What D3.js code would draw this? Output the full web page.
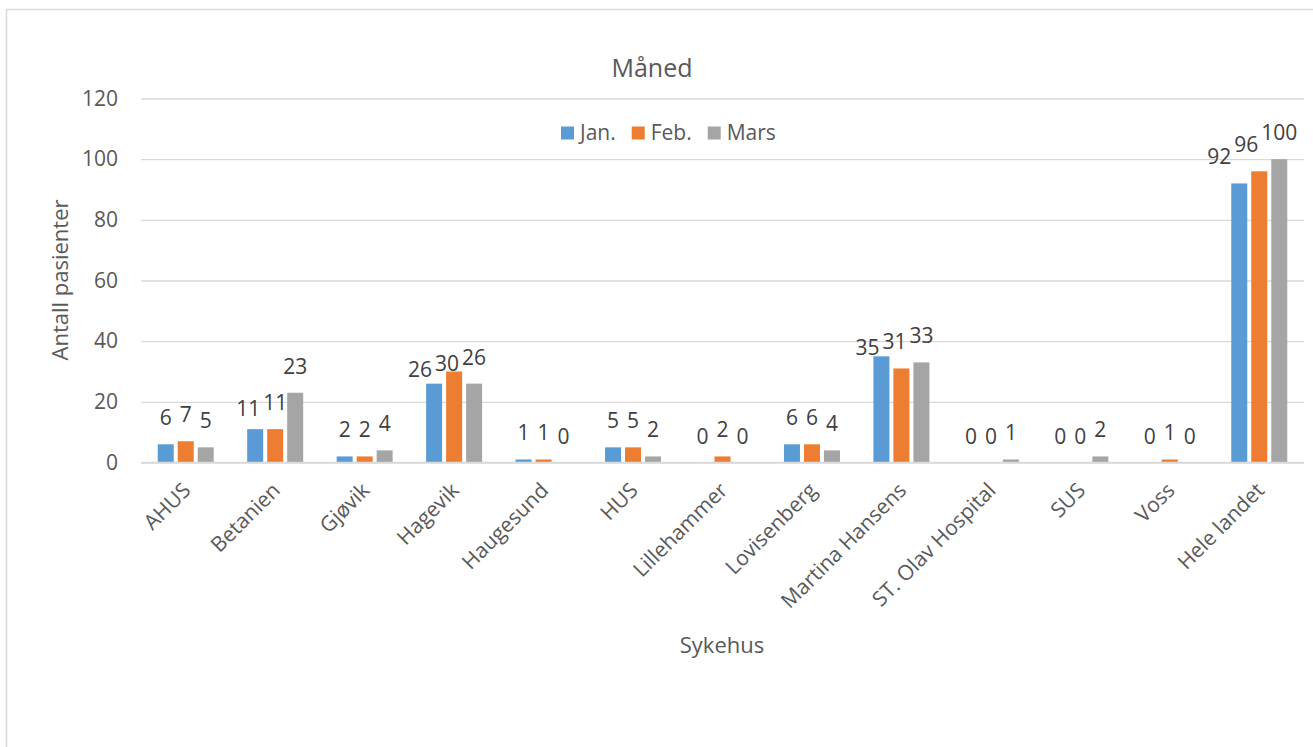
<!DOCTYPE html>
<html>
<head>
<meta charset="utf-8">
<script src="https://cdn.jsdelivr.net/npm/d3@7"></script>
<style>
  html, body { margin: 0; padding: 0; background: #fff; }
  svg { display: block; font-family: "Open Sans", "Noto Sans", sans-serif; }
</style>
</head>
<body>
<svg id="chart" width="1313" height="747"></svg>
<script>
const categories = ["AHUS", "Betanien", "Gjøvik", "Hagevik", "Haugesund", "HUS", "Lillehammer", "Lovisenberg", "Martina Hansens", "ST. Olav Hospital", "SUS", "Voss", "Hele landet"];
const seriesNames = ["Jan.", "Feb.", "Mars"];
const jan  = [6, 11, 2, 26, 1, 5, 0, 6, 35, 0, 0, 0, 92];
const feb  = [7, 11, 2, 30, 1, 5, 2, 6, 31, 0, 0, 1, 96];
const mars = [5, 23, 4, 26, 0, 2, 0, 4, 33, 1, 2, 0, 100];
const seriesValues = [jan, feb, mars];
const colors = ["#5b9bd5", "#ed7d31", "#a5a5a5"];
const yTicks = [0, 20, 40, 60, 80, 100, 120];
const title = "Måned";
const xTitle = "Sykehus";
const yTitle = "Antall pasienter";

const svg = d3.select("#chart");
const textColor = "#595959";

// chart border
svg.append("rect")
  .attr("x", 6.5).attr("y", 9.5)
  .attr("width", 1340).attr("height", 760)
  .attr("fill", "#fff").attr("stroke", "#d9d9d9").attr("stroke-width", 1.5);

const plot = { left: 141, right: 1304, top: 98.5, bottom: 462.5 };

const y = d3.scaleLinear().domain([0, 120]).range([plot.bottom, plot.top]);
const x0 = d3.scaleBand().domain(categories).range([plot.left, plot.right]).padding(0);
const groupW = 60;
const x1 = d3.scaleBand().domain(seriesNames).range([0, groupW]).padding(0);
const barGap = 4;

// gridlines
const yAxis = d3.axisLeft(y).tickValues(yTicks).tickSize(-(plot.right - plot.left)).tickPadding(23);
const gAxis = svg.append("g").attr("transform", `translate(${plot.left},0)`).call(yAxis);
gAxis.select(".domain").remove();
gAxis.selectAll(".tick line").attr("stroke", "#d9d9d9").attr("stroke-width", 1.3);
gAxis.selectAll(".tick text")
  .attr("fill", textColor).style("font-size", "21px")
  .style("font-family", '"Open Sans", sans-serif');

// bars
const rows = [];
categories.forEach((c, i) => {
  seriesNames.forEach((s, j) => {
    rows.push({ cat: c, ser: s, si: j, value: seriesValues[j][i] });
  });
});

const barsG = svg.append("g");
barsG.selectAll("rect").data(rows).join("rect")
  .attr("x", d => x0(d.cat) + (x0.bandwidth() - groupW) / 2 + x1(d.ser) + barGap / 2)
  .attr("width", x1.bandwidth() - barGap)
  .attr("y", d => y(d.value))
  .attr("height", d => y(0) - y(d.value))
  .attr("fill", d => colors[d.si]);

// redraw baseline over bars
svg.append("line")
  .attr("x1", plot.left).attr("x2", plot.right)
  .attr("y1", y(0)).attr("y2", y(0))
  .attr("stroke", "#d9d9d9").attr("stroke-width", 1.3);

// data labels with simple overlap avoidance
const labelsG = svg.append("g");
const labels = labelsG.selectAll("text").data(rows).join("text")
  .attr("x", d => x0(d.cat) + (x0.bandwidth() - groupW) / 2 + x1(d.ser) + x1.bandwidth() / 2)
  .attr("y", d => y(d.value) - 19)
  .attr("text-anchor", "middle")
  .attr("fill", "#404040")
  .style("font-size", "21px")
  .text(d => d.value);

categories.forEach(c => {
  const nodes = labels.filter(d => d.cat === c).nodes();
  for (let k = nodes.length - 2; k >= 0; k--) {
    const a = nodes[k], b = nodes[k + 1];
    const ba = a.getBBox(), bb = b.getBBox();
    const ax = +a.getAttribute("x");
    const ay = +a.getAttribute("y");
    const by = +b.getAttribute("y");
    const vOverlap = (ba.y < bb.y + bb.height) && (bb.y < ba.y + ba.height);
    const overlap = ba.x + ba.width + 3 - bb.x;
    if (vOverlap && overlap > 0) {
      a.setAttribute("x", ax - overlap);
      if (ay < by + 10) a.setAttribute("y", Math.max(ay, by + 6));
    }
  }
});

// category labels
const catG = svg.append("g");
catG.selectAll("text").data(categories).join("text")
  .attr("transform", d => `translate(${x0(d) + x0.bandwidth() / 2 + 1},${plot.bottom + 24}) rotate(-45)`)
  .attr("text-anchor", "end")
  .attr("dy", "0.35em")
  .attr("fill", textColor)
  .style("font-size", "21px")
  .text(d => d);

// title
svg.append("text")
  .attr("x", 652).attr("y", 77)
  .attr("text-anchor", "middle")
  .attr("fill", textColor)
  .style("font-size", "25px")
  .text(title);

// axis titles
svg.append("text")
  .attr("x", 722).attr("y", 653)
  .attr("text-anchor", "middle")
  .attr("fill", textColor)
  .style("font-size", "22px")
  .text(xTitle);

svg.append("text")
  .attr("transform", "translate(68,280) rotate(-90)")
  .attr("text-anchor", "middle")
  .attr("fill", textColor)
  .style("font-size", "22px")
  .text(yTitle);

// legend
const legend = svg.append("g").attr("transform", "translate(561,133)");
let lx = 0;
seriesNames.forEach((s, j) => {
  const g = legend.append("g").attr("transform", `translate(${lx},0)`);
  g.append("rect").attr("x", 0).attr("y", -6.5).attr("width", 13).attr("height", 13).attr("fill", colors[j]);
  const t = g.append("text").attr("x", 19).attr("y", 0).attr("dy", "0.35em")
    .attr("fill", textColor).style("font-size", "21px").text(s);
  lx += 19 + t.node().getComputedTextLength() + 16;
});
</script>
</body>
</html>
